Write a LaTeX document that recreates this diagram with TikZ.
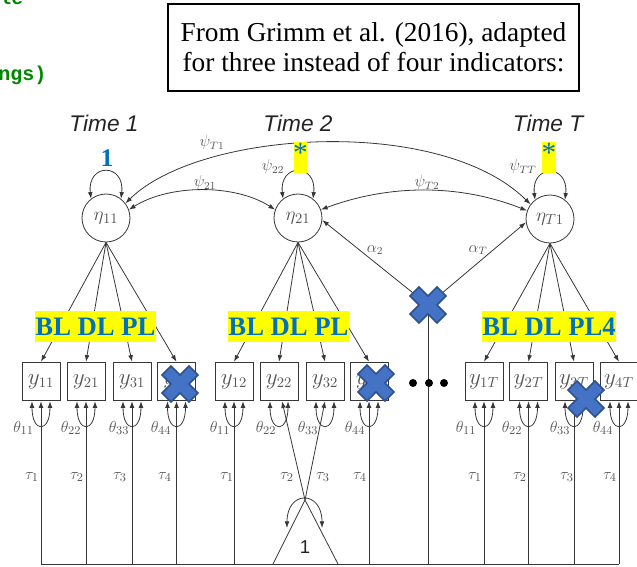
\documentclass[tikz,border=0pt]{standalone}
\usepackage{fontspec}
\setmainfont{Liberation Serif}
\newfontfamily\arialfont{Liberation Sans}
\newfontfamily\codefont{Liberation Mono}
\usetikzlibrary{arrows.meta}

\definecolor{inkc}{RGB}{55,55,55}
\definecolor{labc}{RGB}{85,85,85}
\definecolor{timec}{RGB}{35,35,35}
\definecolor{hlyellow}{RGB}{255,255,0}
\definecolor{hlblue}{RGB}{0,112,192}
\definecolor{xfill}{RGB}{68,114,196}
\definecolor{xedge}{RGB}{47,82,143}
\definecolor{codegreen}{RGB}{0,135,0}

\begin{document}
\begin{tikzpicture}[x=0.75pt,y=-0.75pt,
  lat/.style={circle, draw=inkc, line width=0.6pt, minimum size=36pt, inner sep=0pt, text=labc, font=\fontsize{15}{15}\selectfont},
  obs/.style={rectangle, draw=inkc, line width=0.6pt, minimum width=28.5pt, minimum height=29pt, inner sep=0pt, text=labc, font=\fontsize{16}{16}\selectfont},
  arr/.style={draw=inkc, line width=0.6pt, -{Latex[length=5pt,width=3.6pt]}},
  dbl/.style={draw=inkc, line width=0.6pt, {Latex[length=5pt,width=3.6pt]}-{Latex[length=5pt,width=3.6pt]}},
  pline/.style={draw=inkc, line width=0.6pt},
  glab/.style={text=labc, font=\fontsize{13}{13}\selectfont, inner sep=0pt},
  plab/.style={text=labc, font=\fontsize{12}{12}\selectfont, inner sep=0pt},
  hltext/.style={text=hlblue, font=\fontsize{20}{20}\selectfont\bfseries, inner sep=0pt},
  asttext/.style={text=hlblue, font=\fontsize{22}{22}\selectfont, inner sep=0pt},
  timelab/.style={text=timec, font=\arialfont\itshape\fontsize{17}{17}\selectfont, inner sep=0pt},
  codetext/.style={text=codegreen, font=\codefont\bfseries\fontsize{15}{15}\selectfont, inner sep=0pt},
  dot/.style={circle, fill=black, minimum size=6pt, inner sep=0pt},
  bluex/.pic={\filldraw[fill=xfill, draw=xedge, line width=1.2pt, line join=miter]
    (0,9) -- (9,18) -- (18,9) -- (9,0) -- (18,-9) -- (9,-18) -- (0,-9)
    -- (-9,-18) -- (-18,-9) -- (-9,0) -- (-18,9) -- (-9,18) -- cycle;}
]
\useasboundingbox (0,0) rectangle (637,567);
\clip (0,0) rectangle (637,567);

% code fragments at the left edge
\node[codetext, anchor=base west] (code1) at (-1,5) {le};
\node[codetext, anchor=west] (code2) at (-2,75) {ngs)};

% citation box
\node[draw=black, line width=1pt, minimum width=308.25pt, minimum height=65.25pt,
      align=center, inner sep=0pt, font=\fontsize{20.5}{22.5}\selectfont] (cite) at (373.5,47.5)
  {From Grimm et al. (2016), adapted\\for three instead of four indicators:};

% occasion headings
\node[timelab] (time1) at (104,123) {Time 1};
\node[timelab] (time2) at (298,123) {Time 2};
\node[timelab] (timeT) at (548,123) {Time T};

% latent factors
\node[lat] (e1) at (106,218) {$\eta_{11}$};
\node[lat] (e2) at (298,218) {$\eta_{21}$};
\node[lat] (eT) at (550,219) {$\eta_{T1}$};

% indicators
\foreach \nm/\xx/\lab in {y11/41/11, y21/86/21, y31/132/31, y41/176.5/41,
                          y12/234/12, y22/279/22, y32/325/32, y42/369/42,
                          y1T/484/1T, y2T/528.5/2T, y3T/574/3T, y4T/619/4T}
  \node[obs] (\nm) at (\xx,381.5) {$y_{\lab}$};

% baseline of the mean structure
\coordinate (base) at (0,564);
\coordinate (jn) at (428,305);
\coordinate (apex) at (305,500);
\coordinate (tl) at (273,564);
\coordinate (tr) at (338,564);
\coordinate (ll) at (287,528);
\coordinate (lr) at (322,528);

% factor variances
\draw[dbl] (e1.128) .. controls +(-4,-36) and +(4,-36) .. (e1.52);
\draw[dbl] (e2.128) .. controls +(-4,-36) and +(4,-36) .. (e2.52);
\draw[dbl] (eT.128) .. controls +(-4,-36) and +(4,-36) .. (eT.52);

% factor covariances
\draw[dbl] (e1.37) .. controls (200,130) and (440,115) .. (eT.143);
\draw[dbl] (e1.20) .. controls (170,184) and (235,184) .. (e2.160);
\draw[dbl] (e2.20) .. controls (390,184) and (460,184) .. (eT.160);

% loadings
\foreach \b in {y11,y21,y31,y41} \draw[arr] (e1.south) -- (\b.north);
\foreach \b in {y12,y22,y32,y42} \draw[arr] (e2.south) -- (\b.north);
\foreach \b in {y1T,y2T,y3T,y4T} \draw[arr] (eT.south) -- (\b.north);

% residual variances
\foreach \b in {y11,y21,y31,y41,y12,y22,y32,y42,y1T,y2T,y3T,y4T}
  \draw[dbl] ([xshift=-6.75pt]\b.south) .. controls +(0,32) and +(0,32) .. ([xshift=6.75pt]\b.south);

% intercepts
\foreach \b in {y11,y21,y31,y41,y12,y42,y1T,y2T,y3T,y4T}
  \draw[arr] (\b.south |- base) -- (\b.south);
\draw[arr] (apex) -- ([xshift=2.25pt]y22.south);
\draw[arr] (apex) -- (y32.south);
\draw[pline] (y11.south |- base) -- (y4T.south |- base);

% constant
\draw[pline] (tl) -- (apex) -- (tr);
\draw[dbl] (ll) .. controls (287,490) and (322,490) .. (lr);
\node[text=timec, font=\arialfont\fontsize{14}{14}\selectfont, inner sep=0pt] (const) at (305,547) {1};

% latent means
\draw[pline] (jn) -- (jn |- base);
\draw[arr] (jn) -- (e2.-5);
\draw[arr] (jn) -- (eT.188);

% parameter labels
\node[plab] (pT1) at (212,143) {$\psi_{T1}$};
\node[plab] (p21) at (205,183) {$\psi_{21}$};
\node[plab] (p22) at (273,167) {$\psi_{22}$};
\node[plab] (pT2) at (427,183) {$\psi_{T2}$};
\node[plab] (pTT) at (523,167) {$\psi_{TT}$};
\node[plab] (a2) at (375,250) {$\alpha_{2}$};
\node[plab] (aT) at (478,250) {$\alpha_{T}$};

\foreach \xx/\lab [count=\i] in {23.5/11, 71/22, 119/33, 161/44, 220/11, 266/22, 308/33, 355/44,
                                466/11, 512/22, 560/33, 603/44}
  \node[glab] (th\i) at (\xx,428) {$\theta_{\lab}$};
\foreach \xx/\lab [count=\i] in {32/1, 77/2, 120/3, 165/4, 227/1, 287/2, 323/3, 360/4,
                                475/1, 520/2, 567/3, 610/4}
  \node[glab] (ta\i) at (\xx,477) {$\tau_{\lab}$};

% occasions in between
\node[dot] (d1) at (413,383) {};
\node[dot] (d2) at (429,383) {};
\node[dot] (d3) at (444,383) {};

% highlighted annotations
\node[text=hlblue, font=\fontsize{19}{19}\selectfont\bfseries, inner sep=0pt] (fix1) at (107,158) {1};
\fill[hlyellow] (294,142) rectangle (307,173);
\node[asttext] (free2) at (300.5,153) {*};
\fill[hlyellow] (542,142) rectangle (556,173);
\node[asttext] (freeT) at (549,153) {*};

\fill[hlyellow] (35,311) rectangle (156,342);
\node[hltext] (ind1) at (95.5,327) {BL DL PL};
\fill[hlyellow] (228,311) rectangle (349,342);
\node[hltext] (ind2) at (288.5,327) {BL DL PL};
\fill[hlyellow] (482,311) rectangle (616,342);
\node[hltext] (indT) at (549,327) {BL DL PL4};

% removed parts
\pic at (180,384) {bluex};
\pic at (376,383) {bluex};
\pic at (jn) {bluex};
\pic at (586,399) {bluex};
\end{tikzpicture}
\end{document}
